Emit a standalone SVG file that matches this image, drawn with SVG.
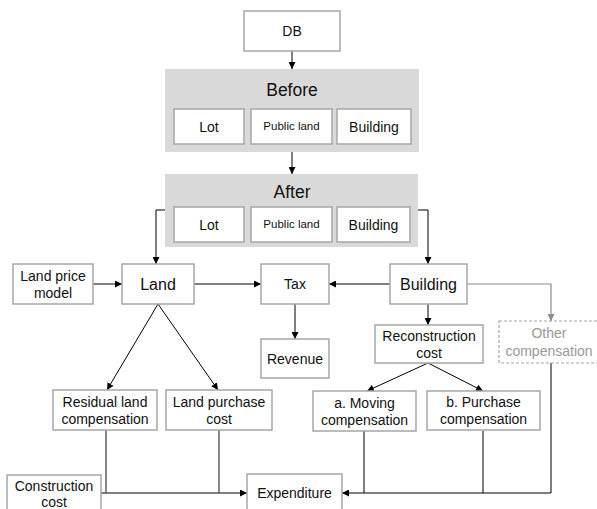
<svg xmlns="http://www.w3.org/2000/svg" width="597" height="509" viewBox="0 0 597 509">
  <style>
    text { font-family: "Liberation Sans", "Noto Sans CJK SC", sans-serif; fill: #111; text-anchor: middle; dominant-baseline: central; }
    .box { fill: #fff; stroke: #a6a6a6; stroke-width: 1.5; }
    .panel { fill: #d9d9d9; stroke: none; }
    .big { font-size: 17.5px; }
    .node { font-size: 16px; }
    .lbl { font-size: 14px; }
    .sm { font-size: 11.5px; }
    .dash { fill: #fff; stroke: #a6a6a6; stroke-width: 1.2; stroke-dasharray: 3 2; }
    .muted { fill: #999; }
    .wire { fill: none; stroke: #000; stroke-width: 1; }
    .wire-gray { fill: none; stroke: #8c8c8c; stroke-width: 1.2; }
    .wire-dark { fill: none; stroke: #555; stroke-width: 1.4; }
  </style>
  <defs>
    <marker id="arrow" viewBox="0 0 10 10" refX="10" refY="5" markerWidth="7" markerHeight="7" markerUnits="userSpaceOnUse" orient="auto">
      <path d="M0,0 L10,5 L0,10 z" fill="#000"/>
    </marker>
    <marker id="arrow-gray" viewBox="0 0 10 10" refX="10" refY="5" markerWidth="7" markerHeight="7" markerUnits="userSpaceOnUse" orient="auto">
      <path d="M0,0 L10,5 L0,10 z" fill="#8c8c8c"/>
    </marker>
  </defs>

  <g id="connectors">
    <line class="wire" x1="292" y1="51" x2="292" y2="69" marker-end="url(#arrow)"/>
    <line class="wire" x1="292" y1="152" x2="292" y2="174" marker-end="url(#arrow)"/>
    <polyline class="wire" points="165,210 156,210 156,264" marker-end="url(#arrow)"/>
    <polyline class="wire" points="418,210 428,210 428,264" marker-end="url(#arrow)"/>
    <line class="wire" x1="93" y1="284" x2="122" y2="284" marker-end="url(#arrow)"/>
    <line class="wire" x1="194" y1="284" x2="261" y2="284" marker-end="url(#arrow)"/>
    <line class="wire" x1="390" y1="284" x2="329" y2="284" marker-end="url(#arrow)"/>
    <line class="wire" x1="295" y1="304" x2="295" y2="339" marker-end="url(#arrow)"/>
    <line class="wire" x1="428" y1="304" x2="428" y2="325" marker-end="url(#arrow)"/>
    <polyline class="wire-gray" points="467,284 551,284 551,321" marker-end="url(#arrow-gray)"/>
    <line class="wire" x1="158" y1="304" x2="107" y2="390" marker-end="url(#arrow)"/>
    <line class="wire" x1="158" y1="304" x2="218" y2="390" marker-end="url(#arrow)"/>
    <line class="wire" x1="428" y1="363" x2="367" y2="391" marker-end="url(#arrow)"/>
    <line class="wire" x1="428" y1="363" x2="483" y2="391" marker-end="url(#arrow)"/>
    <line class="wire-dark" x1="106" y1="430" x2="106" y2="493"/>
    <line class="wire-dark" x1="219" y1="430" x2="219" y2="493"/>
    <line class="wire-dark" x1="101" y1="493" x2="247" y2="493" marker-end="url(#arrow)"/>
    <line class="wire" x1="364" y1="431" x2="364" y2="493"/>
    <line class="wire" x1="483" y1="431" x2="483" y2="493"/>
    <line class="wire" x1="551" y1="363" x2="551" y2="493"/>
    <line class="wire" x1="551" y1="493" x2="342" y2="493" marker-end="url(#arrow)"/>
  </g>

  <g id="db">
    <rect class="box" x="244" y="11" width="96" height="40"/>
    <text class="lbl" x="292" y="31">DB</text>
  </g>

  <g id="before">
    <rect class="panel" x="165" y="69" width="254" height="83"/>
    <text class="big" x="292" y="90">Before</text>
    <g id="before-lot">
      <rect class="box" x="174" y="109" width="70" height="35"/>
      <text class="lbl" x="209" y="127">Lot</text>
    </g>
    <g id="before-public">
      <rect class="box" x="251" y="109" width="81" height="35"/>
      <text class="sm" x="291.5" y="126">Public land</text>
    </g>
    <g id="before-building">
      <rect class="box" x="337" y="109" width="74" height="35"/>
      <text class="lbl" x="374" y="127">Building</text>
    </g>
  </g>

  <g id="after">
    <rect class="panel" x="165" y="174" width="253" height="73"/>
    <text class="big" x="292" y="192">After</text>
    <g id="after-lot">
      <rect class="box" x="174" y="207" width="70" height="35"/>
      <text class="lbl" x="209" y="225">Lot</text>
    </g>
    <g id="after-public">
      <rect class="box" x="251" y="207" width="81" height="35"/>
      <text class="sm" x="291.5" y="224">Public land</text>
    </g>
    <g id="after-building">
      <rect class="box" x="337" y="207" width="73" height="35"/>
      <text class="lbl" x="373.5" y="225">Building</text>
    </g>
  </g>

  <g id="land-price-model">
    <rect class="box" x="13" y="264" width="80" height="40"/>
    <text class="lbl" x="53" y="276">Land price</text>
    <text class="lbl" x="53" y="293">model</text>
  </g>

  <g id="land">
    <rect class="box" x="122" y="264" width="72" height="40"/>
    <text class="node" x="158" y="284">Land</text>
  </g>

  <g id="tax">
    <rect class="box" x="261" y="264" width="68" height="40"/>
    <text class="lbl" x="295" y="284">Tax</text>
  </g>

  <g id="building">
    <rect class="box" x="390" y="264" width="77" height="40"/>
    <text class="node" x="428.5" y="284">Building</text>
  </g>

  <g id="revenue">
    <rect class="box" x="261" y="339" width="68" height="39"/>
    <text class="lbl" x="295" y="358.5">Revenue</text>
  </g>

  <g id="reconstruction-cost">
    <rect class="box" x="375" y="325" width="108" height="38"/>
    <text class="lbl" x="429" y="336">Reconstruction</text>
    <text class="lbl" x="429" y="353">cost</text>
  </g>

  <g id="other-compensation">
    <rect class="dash" x="499" y="321" width="99" height="42"/>
    <text class="lbl muted" x="549" y="333">Other</text>
    <text class="lbl muted" x="549" y="351">compensation</text>
  </g>

  <g id="residual-land">
    <rect class="box" x="53" y="390" width="104" height="40"/>
    <text class="lbl" x="105" y="402">Residual land</text>
    <text class="lbl" x="105" y="419">compensation</text>
  </g>

  <g id="land-purchase">
    <rect class="box" x="166" y="390" width="106" height="40"/>
    <text class="lbl" x="219" y="402">Land purchase</text>
    <text class="lbl" x="219" y="419">cost</text>
  </g>

  <g id="moving-compensation">
    <rect class="box" x="313" y="391" width="103" height="40"/>
    <text class="lbl" x="364.5" y="403">a. Moving</text>
    <text class="lbl" x="364.5" y="420">compensation</text>
  </g>

  <g id="purchase-compensation">
    <rect class="box" x="427" y="391" width="113" height="39"/>
    <text class="lbl" x="483.5" y="402">b. Purchase</text>
    <text class="lbl" x="483.5" y="419">compensation</text>
  </g>

  <g id="construction-cost">
    <rect class="box" x="7" y="475" width="94" height="42"/>
    <text class="lbl" x="54" y="486">Construction</text>
    <text class="lbl" x="54" y="502">cost</text>
  </g>

  <g id="expenditure">
    <rect class="box" x="247" y="474" width="95" height="42"/>
    <text class="lbl" x="294.5" y="493">Expenditure</text>
  </g>
</svg>
